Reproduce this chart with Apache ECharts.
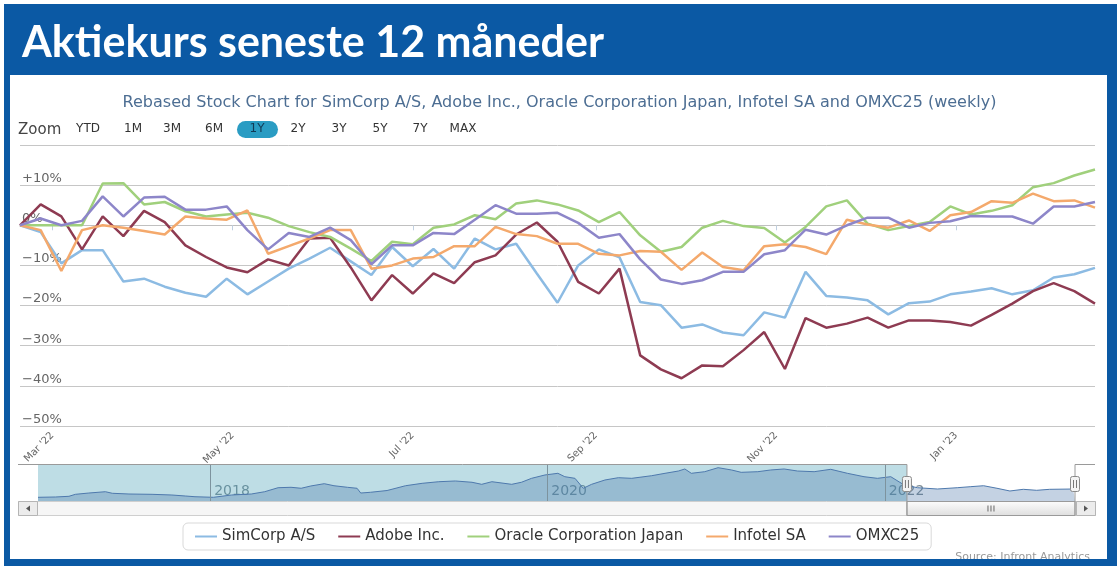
<!DOCTYPE html>
<html><head><meta charset="utf-8">
<script src="https://cdn.jsdelivr.net/npm/echarts@6/dist/echarts.min.js"></script>
<style>html,body{margin:0;padding:0;background:#fff}#c{width:1119px;height:568px}</style>
</head><body><div id="c"></div>
<script>
// ---------- DATA ----------
const dates = ['2022-02-18','2022-02-25','2022-03-04','2022-03-11','2022-03-18','2022-03-25','2022-04-01','2022-04-08','2022-04-15','2022-04-22','2022-04-29','2022-05-06','2022-05-13','2022-05-20','2022-05-27','2022-06-03','2022-06-10','2022-06-17','2022-06-24','2022-07-01','2022-07-08','2022-07-15','2022-07-22','2022-07-29','2022-08-05','2022-08-12','2022-08-19','2022-08-26','2022-09-02','2022-09-09','2022-09-16','2022-09-23','2022-09-30','2022-10-07','2022-10-14','2022-10-21','2022-10-28','2022-11-04','2022-11-11','2022-11-18','2022-11-25','2022-12-02','2022-12-09','2022-12-16','2022-12-23','2022-12-30','2023-01-06','2023-01-13','2023-01-20','2023-01-27','2023-02-03','2023-02-10','2023-02-17'];
const simcorp = [0,-1.7,-9.5,-6.2,-6.2,-14,-13.3,-15.3,-16.8,-17.8,-13.3,-17.2,-14,-10.8,-8.3,-5.6,-9,-12.4,-5.4,-10.2,-5.9,-10.8,-3.3,-6,-4.6,-12,-19.3,-10,-6,-8,-19.1,-19.9,-25.5,-24.7,-26.7,-27.4,-21.7,-23,-11.6,-17.6,-18,-18.7,-22.2,-19.4,-19,-17.2,-16.5,-15.7,-17.2,-16.2,-13,-12.2,-10.6];
const adobe = [0,5.2,2.2,-6,2.2,-2.7,3.6,0.8,-5,-7.9,-10.5,-11.7,-8.5,-10,-3.3,-3.1,-10.5,-18.7,-12.4,-17,-12,-14.4,-9.2,-7.5,-2.3,0.7,-4.1,-14.1,-17,-10.8,-32.4,-35.9,-38.1,-34.9,-35.1,-31.1,-26.6,-35.8,-23.1,-25.5,-24.5,-23,-25.5,-23.7,-23.7,-24.1,-25,-22.3,-19.5,-16.4,-14.4,-16.4,-19.5];
const oracle = [0,0,0,0,10.4,10.5,5.2,5.8,3.5,2.2,2.7,3.1,1.9,-0.2,-1.7,-2.9,-5.8,-8.9,-4.1,-4.7,-0.6,0.2,2.5,1.5,5.4,6.2,5.2,3.7,0.8,3.3,-2.5,-6.6,-5.4,-0.6,1.1,-0.2,-0.7,-4.3,-0.4,4.7,6.2,0.4,-1.2,-0.2,0.8,4.7,2.7,3.6,5,9.5,10.5,12.4,13.9];
const infotel = [0,-1.2,-11.4,-1.2,0,-0.6,-1.4,-2.3,2.2,1.7,1.4,3.7,-7.1,-5.2,-3.3,-1.2,-1.2,-10.8,-10,-8.3,-7.9,-5.2,-5.2,-0.4,-2.2,-2.7,-4.6,-4.6,-7.1,-7.5,-6.4,-6.6,-11.1,-6.8,-10.4,-11.2,-5.2,-4.7,-5.4,-7.2,1.4,0.2,-0.6,1.2,-1.4,2.5,3.3,6,5.6,7.9,6,6.2,4.4];
const omxc25 = [0,1.7,0,1.1,7.2,2.2,6.9,7.1,3.9,3.9,4.7,-1.2,-6,-1.9,-2.9,-0.6,-3.7,-9.7,-5,-5,-1.9,-2.2,1.4,5,2.9,2.9,3.1,0.6,-3.1,-2.2,-8.5,-13.5,-14.6,-13.7,-11.6,-11.6,-7.2,-6.2,-1.1,-2.3,0,1.9,1.9,-0.6,0.6,1,2.3,2.2,2.2,0.4,4.7,4.7,5.8];
const seriesNames = ['SimCorp A/S','Adobe Inc.','Oracle Corporation Japan','Infotel SA','OMXC25'];
const xTickDates = ['2022-03-01','2022-05-01','2022-07-01','2022-09-01','2022-11-01','2023-01-01'];
const xTickLabels = ["Mar '22","May '22","Jul '22","Sep '22","Nov '22","Jan '23"];
const navDates = ['2016-12-24','2017-01-31','2017-03-01','2017-03-15','2017-04-13','2017-05-19','2017-06-03','2017-07-09','2017-08-28','2017-10-10','2017-11-08','2017-11-29','2018-01-08','2018-02-16','2018-03-31','2018-04-29','2018-05-28','2018-06-25','2018-07-17','2018-08-07','2018-09-05','2018-09-26','2018-10-25','2018-11-15','2018-11-23','2018-12-14','2019-01-19','2019-02-28','2019-04-05','2019-05-11','2019-06-16','2019-07-22','2019-08-12','2019-09-03','2019-10-16','2019-11-06','2019-11-28','2019-12-27','2020-01-24','2020-02-08','2020-03-01','2020-03-19','2020-04-06','2020-05-05','2020-06-03','2020-07-02','2020-08-14','2020-09-12','2020-10-11','2020-10-25','2020-11-08','2020-12-07','2021-01-05','2021-02-03','2021-02-24','2021-04-01','2021-04-29','2021-05-28','2021-06-26','2021-08-01','2021-09-06','2021-10-12','2021-11-17','2021-12-16','2022-01-14','2022-02-12','2022-03-13','2022-04-25','2022-06-07','2022-07-05','2022-08-03','2022-09-01','2022-09-29','2022-10-28','2022-11-26','2022-12-24','2023-02-13','2023-02-17'];
const navValues = [371,377,390,428,453,478,448,434,428,415,396,382,371,415,434,478,555,563,544,588,632,593,563,544,453,467,501,593,639,670,684,659,620,670,620,659,735,799,831,766,735,544,620,703,747,735,785,831,875,914,831,862,939,895,850,862,895,914,875,862,908,831,766,735,766,607,555,530,555,574,593,544,492,524,505,524,530,530];
const navYearDates = ['2018-01-01','2020-01-01','2022-01-01'];
const navYearLabels = ['2018','2020','2022'];
const zoomButtons = ['YTD','1M','3M','6M','1Y','2Y','3Y','5Y','7Y','MAX'];
const selectedButton = '1Y';
const chartTitle = 'Aktiekurs seneste 12 måneder';
const chartSubtitle = 'Rebased Stock Chart for SimCorp A/S, Adobe Inc., Oracle Corporation Japan, Infotel SA and OMXC25 (weekly)';
const sourceText = 'Source: Infront Analytics';

// ---------- CHART ----------
const T = s => { const p = s.split('-').map(Number); return Date.UTC(p[0], p[1]-1, p[2]); };
const colors = ['#8cbbe3','#8e3b52','#a0d07c','#f4a96c','#8d86c9'];
const allVals = [simcorp, adobe, oracle, infotel, omxc25];
const xTicks = xTickDates.map(T);
const navYears = navYearDates.map(T);
const BLUE = '#0b59a4';
const FONT = 'DejaVu Sans';

const chart = echarts.init(document.getElementById('c'), null, {renderer:'canvas'});

const mainSeries = allVals.map((vals, k) => ({
  name: seriesNames[k], type: 'line', xAxisIndex: 0, yAxisIndex: 0,
  data: dates.map((d, i) => [T(d), vals[i]]),
  symbol: 'none', showSymbol: false,
  lineStyle: {width: 2.5, color: colors[k]}, itemStyle: {color: colors[k]},
  z: 2 + k, animation: false
}));

const navSeries = [{
  type: 'line', xAxisIndex: 1, yAxisIndex: 1,
  data: navDates.map((d, i) => [T(d), navValues[i]]),
  symbol: 'none', silent: true, animation: false,
  lineStyle: {width: 1, color: '#4e79ad'},
  areaStyle: {color: 'rgba(69,114,167,0.45)', origin: 'start'},
  markLine: {silent: true, symbol: 'none', label: {show: false}, animation: false,
    lineStyle: {color: '#7d939e', width: 1, type: 'solid'},
    data: navYears.map(v => ({xAxis: v}))},
  z: 2
}, {
  type: 'line', xAxisIndex: 1, yAxisIndex: 1, data: [], silent: true, z: 10, animation: false,
  markArea: {silent: true, itemStyle: {color: 'rgba(69,158,181,0.35)'},
    data: [[{xAxis: T(navDates[0])}, {xAxis: T(dates[0])}]]}
}];

const btnX = [88, 133, 172, 214, 257, 298, 339, 380, 420, 463];
const graphics = [
  {type:'rect', shape:{x:4,y:4,width:1113,height:71}, style:{fill:BLUE}, z:0},
  {type:'rect', shape:{x:4,y:4,width:6,height:562}, style:{fill:BLUE}, z:100},
  {type:'rect', shape:{x:1107,y:4,width:10,height:562}, style:{fill:BLUE}, z:100},
  {type:'rect', shape:{x:4,y:559,width:1113,height:7}, style:{fill:BLUE}, z:100},
  {type:'text', x:18, y:130, style:{text:'Zoom', font:'15px "DejaVu Sans"', fill:'#444', verticalAlign:'middle'}, z:5},
  {type:'rect', shape:{x:237,y:121,width:41,height:17,r:8.5}, style:{fill:'#2a9cc3'}, z:4},
  {type:'text', x:1090, y:552, style:{text:sourceText, font:'11px "DejaVu Sans"', fill:'#999', align:'right'}, z:50}
];
zoomButtons.forEach((b, i) => graphics.push({type:'text', x:btnX[i], y:129,
  style:{text:b, font:'12px "DejaVu Sans"', fill: b === selectedButton ? '#123a55' : '#333', align:'center', verticalAlign:'middle'}, z:5}));

chart.setOption({
  animation: false,
  backgroundColor: '#fff',
  title: [
    {text: chartTitle, left: 22, top: 22, padding: 0,
     textStyle: {color:'#fff', fontSize: 43, fontWeight: 'bold', fontFamily: 'Lato'}},
    {text: chartSubtitle, left: 'center', top: 95, padding: 0,
     textStyle: {color:'#4d6e93', fontSize: 16, fontWeight: 'normal', fontFamily: FONT}}
  ],
  legend: {
    data: seriesNames, left: 183, top: 523, padding: [6, 12],
    borderColor: '#d9d9d9', borderWidth: 1, borderRadius: 5,
    icon: 'rect', itemWidth: 22, itemHeight: 2, itemGap: 23,
    textStyle: {fontFamily: FONT, fontSize: 15, color: '#333'}
  },
  grid: [
    {left: 20, right: 24, top: 145, height: 281},
    {left: 38, right: 44, top: 464.5, height: 36.5}
  ],
  xAxis: [{
    type: 'value', gridIndex: 0, min: T(dates[0]), max: T(dates[dates.length-1]), scale: true,
    axisLine: {lineStyle: {color: '#c0c0c0'}},
    axisTick: {show: true, customValues: xTicks, length: 5, lineStyle: {color: '#c0d0e0'}},
    axisLabel: {customValues: xTicks, rotate: 45, fontSize: 10, fontFamily: FONT, color: '#666', margin: 8,
      formatter: v => { const i = xTicks.indexOf(v); return i >= 0 ? xTickLabels[i] : ''; }},
    splitLine: {show: false}
  }, {
    type: 'value', gridIndex: 1, min: T(navDates[0]), max: T(dates[dates.length-1]), scale: true,
    axisLine: {show: false}, axisTick: {show: false, customValues: navYears},
    axisLabel: {customValues: navYears, inside: true, align: 'left', margin: 3, padding: [0,0,0,4],
      fontSize: 14, fontFamily: FONT, color: '#7d8c95',
      formatter: v => { const i = navYears.indexOf(v); return i >= 0 ? navYearLabels[i] : ''; }},
    splitLine: {show: false}
  }],
  yAxis: [{
    type: 'value', gridIndex: 0, min: -50, max: 20, interval: 10,
    axisLine: {show: false}, axisTick: {show: false},
    axisLabel: {inside: true, margin: 2, verticalAlign: 'bottom', fontSize: 13, fontFamily: FONT, color: '#666',
      formatter: v => v >= 20 ? '' : (v > 0 ? '+' + v + '%' : (v < 0 ? '\u2212' + Math.abs(v) + '%' : '0%'))},
    splitLine: {lineStyle: {color: '#c6c6c6', width: 1}}
  }, {
    type: 'value', gridIndex: 1, min: 300, max: 1000, show: false, splitLine: {show: false}
  }],
  series: mainSeries.concat(navSeries),
  graphic: graphics
});

// Navigator chrome (handles, scrollbar) placed on the navigator axis
const hL = chart.convertToPixel({xAxisIndex: 1}, T(dates[0]));
const hR = chart.convertToPixel({xAxisIndex: 1}, T(dates[dates.length-1]));
const navTop = 464.5, navBot = 501.5, sbH = 14;
const gripX = (hL + hR) / 2;
const chrome = [
  {type:'rect', shape:{x:18.5,y:navBot,width:1077,height:sbH}, style:{fill:'#f6f6f6', stroke:'#cfcfcf', lineWidth:1}, z:20},
  {type:'rect', shape:{x:18.5,y:navBot,width:19,height:sbH}, style:{fill:'#ececec', stroke:'#b5b5b5', lineWidth:1}, z:21},
  {type:'polygon', shape:{points:[[26,508.5],[30,505.5],[30,511.5]]}, style:{fill:'#555'}, z:22},
  {type:'rect', shape:{x:1076.5,y:navBot,width:19,height:sbH}, style:{fill:'#ececec', stroke:'#b5b5b5', lineWidth:1}, z:21},
  {type:'polygon', shape:{points:[[1088,508.5],[1084,505.5],[1084,511.5]]}, style:{fill:'#555'}, z:22},
  {type:'rect', shape:{x:hL,y:navBot,width:hR-hL,height:sbH},
    style:{fill:new echarts.graphic.LinearGradient(0,0,0,1,[{offset:0,color:'#fdfdfd'},{offset:1,color:'#dedede'}]), stroke:'#9a9a9a', lineWidth:1}, z:21},
  {type:'line', shape:{x1:gripX-3,y1:505.5,x2:gripX-3,y2:511.5}, style:{stroke:'#666', lineWidth:1}, z:22},
  {type:'line', shape:{x1:gripX,y1:505.5,x2:gripX,y2:511.5}, style:{stroke:'#666', lineWidth:1}, z:22},
  {type:'line', shape:{x1:gripX+3,y1:505.5,x2:gripX+3,y2:511.5}, style:{stroke:'#666', lineWidth:1}, z:22},
  {type:'polyline', shape:{points:[[18,navTop],[hL,navTop],[hL,navBot+sbH]]}, style:{stroke:'#9a9a9a', lineWidth:1, fill:null}, z:23},
  {type:'polyline', shape:{points:[[hR,navBot+sbH],[hR,navTop],[1095,navTop]]}, style:{stroke:'#9a9a9a', lineWidth:1, fill:null}, z:23}
];
[hL, hR].forEach(h => {
  chrome.push({type:'rect', shape:{x:h-4.5,y:476.5,width:9,height:15,r:2}, style:{fill:'#f4f4f4', stroke:'#8a8a8a', lineWidth:1}, z:24});
  chrome.push({type:'line', shape:{x1:h-1.5,y1:480,x2:h-1.5,y2:488}, style:{stroke:'#777', lineWidth:1}, z:25});
  chrome.push({type:'line', shape:{x1:h+1.5,y1:480,x2:h+1.5,y2:488}, style:{stroke:'#777', lineWidth:1}, z:25});
});
chart.setOption({graphic: graphics.concat(chrome)});
</script></body></html>
